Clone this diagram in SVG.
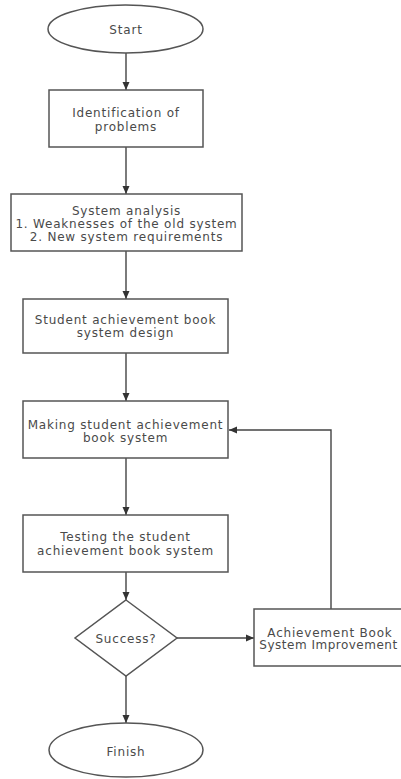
<svg xmlns="http://www.w3.org/2000/svg" width="401" height="779" viewBox="0 0 401 779">
<defs>
<style>
.shape{fill:#ffffff;stroke:#555555;stroke-width:1.5}
.conn{fill:none;stroke:#444444;stroke-width:1.4}
text{font-family:"DejaVu Sans","Liberation Sans",sans-serif;font-size:12px;fill:#4a4a4a;text-anchor:middle;letter-spacing:0.8px}
</style>
<marker id="arrow" viewBox="0 0 8 8" refX="8" refY="4" markerWidth="8" markerHeight="8" markerUnits="userSpaceOnUse" orient="auto">
<path d="M0,0.5 L8,4 L0,7.5 z" fill="#333333"/>
</marker>
</defs>
<rect width="401" height="779" fill="#ffffff"/>
<g id="connectors">
<line class="conn" x1="126" y1="53" x2="126" y2="90" marker-end="url(#arrow)"/>
<line class="conn" x1="126" y1="147" x2="126" y2="194" marker-end="url(#arrow)"/>
<line class="conn" x1="126" y1="251" x2="126" y2="299" marker-end="url(#arrow)"/>
<line class="conn" x1="126" y1="353" x2="126" y2="401" marker-end="url(#arrow)"/>
<line class="conn" x1="126" y1="458" x2="126" y2="515" marker-end="url(#arrow)"/>
<line class="conn" x1="126" y1="572" x2="126" y2="600" marker-end="url(#arrow)"/>
<line class="conn" x1="126" y1="676" x2="126" y2="723" marker-end="url(#arrow)"/>
<line class="conn" x1="177" y1="638" x2="254" y2="638" marker-end="url(#arrow)"/>
<polyline class="conn" points="331,609 331,430 229,430" marker-end="url(#arrow)"/>
</g>
<g id="start">
<ellipse class="shape" cx="125.5" cy="29" rx="77.5" ry="24"/>
<text x="126" y="33.5">Start</text>
</g>
<g id="identification">
<rect class="shape" x="49" y="90" width="154" height="57"/>
<text x="126" y="117">Identification of</text>
<text x="126" y="130.5">problems</text>
</g>
<g id="analysis">
<rect class="shape" x="11" y="194" width="231" height="57"/>
<text x="126.5" y="215">System analysis</text>
<text x="126.5" y="228">1. Weaknesses of the old system</text>
<text x="126.5" y="241">2. New system requirements</text>
</g>
<g id="design">
<rect class="shape" x="23" y="299" width="205" height="54"/>
<text x="125.5" y="324">Student achievement book</text>
<text x="125.5" y="337">system design</text>
</g>
<g id="making">
<rect class="shape" x="23" y="401" width="205" height="57"/>
<text x="125.5" y="428.5">Making student achievement</text>
<text x="125.5" y="442">book system</text>
</g>
<g id="testing">
<rect class="shape" x="23" y="515" width="205" height="57"/>
<text x="125.5" y="541">Testing the student</text>
<text x="125.5" y="555">achievement book system</text>
</g>
<g id="decision">
<polygon class="shape" points="126,600 177,638 126,676 75,638"/>
<text x="126" y="642.5">Success?</text>
</g>
<g id="improvement">
<rect class="shape" x="254" y="609" width="154" height="57"/>
<text x="330" y="636.5">Achievement Book</text>
<text x="328.5" y="649" style="letter-spacing:0.5px">System Improvement</text>
</g>
<g id="finish">
<ellipse class="shape" cx="126" cy="750" rx="77" ry="27"/>
<text x="126" y="755.5">Finish</text>
</g>
</svg>
